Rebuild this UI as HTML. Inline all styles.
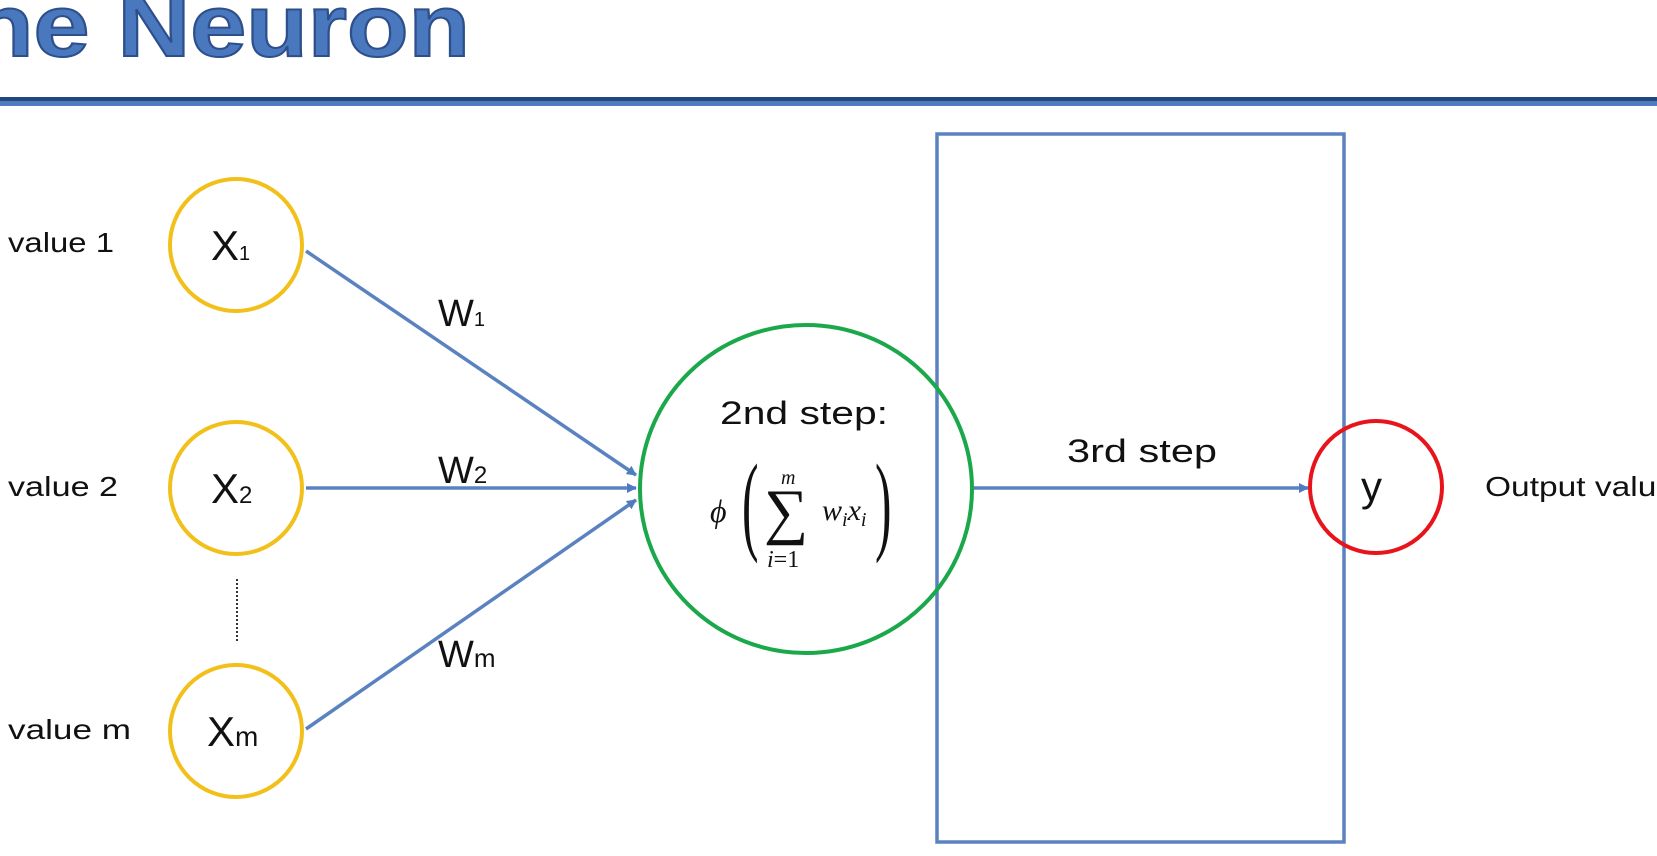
<!DOCTYPE html>
<html><head><meta charset="utf-8"><style>
html,body{margin:0;padding:0;background:#fff;width:1657px;height:856px;overflow:hidden}
svg{display:block}
text{font-family:"Liberation Sans",sans-serif;fill:#111}
text.s{font-family:"Liberation Serif",serif}
</style></head><body>
<svg width="1657" height="856" viewBox="0 0 1657 856" xmlns="http://www.w3.org/2000/svg">
<defs>
<marker id="ah" markerWidth="10" markerHeight="10" refX="9" refY="5" orient="auto" markerUnits="userSpaceOnUse">
<path d="M0,0 L10,5 L0,10 z" fill="#4f7cc0"/>
</marker>
</defs>
<text x="-28" y="56" font-size="88" font-weight="bold" textLength="498" lengthAdjust="spacingAndGlyphs" style="fill:#4a78bf;stroke:#2d4f8a;stroke-width:2">he Neuron</text>
<rect x="0" y="97" width="1657" height="4" fill="#23477e"/>
<rect x="0" y="101" width="1657" height="5" fill="#4f7cc0"/>
<rect x="937" y="134" width="407" height="708" fill="none" stroke="#5b82c0" stroke-width="3.5"/>
<g stroke="#5b82c0" stroke-width="3.5" fill="none">
<line x1="306" y1="251" x2="636" y2="475" marker-end="url(#ah)"/>
<line x1="306" y1="488" x2="636" y2="488" marker-end="url(#ah)"/>
<line x1="306" y1="729" x2="636" y2="500" marker-end="url(#ah)"/>
<line x1="972" y1="488" x2="1308" y2="488" marker-end="url(#ah)"/>
</g>
<line x1="237" y1="579" x2="237" y2="641" stroke="#333" stroke-width="2" stroke-dasharray="2,2"/>
<g fill="#fff" stroke="#f2c01a" stroke-width="4">
<circle cx="236" cy="245" r="66"/>
<circle cx="236" cy="488" r="66"/>
<circle cx="236" cy="731" r="66"/>
</g>
<ellipse cx="806" cy="489" rx="166" ry="164" fill="none" stroke="#1aa84a" stroke-width="4"/>
<circle cx="1376" cy="487" r="66" fill="none" stroke="#e8141c" stroke-width="4"/>
<g font-size="28">
<text x="8" y="252" textLength="106" lengthAdjust="spacingAndGlyphs">value 1</text>
<text x="8" y="496" textLength="110" lengthAdjust="spacingAndGlyphs">value 2</text>
<text x="8" y="739" textLength="123" lengthAdjust="spacingAndGlyphs">value m</text>
<text x="1485" y="496" textLength="190" lengthAdjust="spacingAndGlyphs">Output value</text>
</g>
<g font-size="42">
<text x="211" y="260">X<tspan font-size="20">1</tspan></text>
<text x="211" y="503">X<tspan font-size="24">2</tspan></text>
<text x="207" y="746">X<tspan font-size="28">m</tspan></text>
<text x="1361" y="501">y</text>
</g>
<g font-size="38">
<text x="438" y="326">W<tspan font-size="20">1</tspan></text>
<text x="438" y="483">W<tspan font-size="24">2</tspan></text>
<text x="438" y="667">W<tspan font-size="26">m</tspan></text>
</g>
<text x="720" y="424" font-size="32" textLength="168" lengthAdjust="spacingAndGlyphs">2nd step:</text>
<text x="1067" y="462" font-size="32" textLength="150" lengthAdjust="spacingAndGlyphs">3rd step</text>
<text class="s" x="710" y="522" font-size="32" font-style="italic">ϕ</text>
<text class="s" x="0" y="540" font-size="110" transform="translate(742,0) scale(0.45,1)">(</text>
<text class="s" x="0" y="540" font-size="110" transform="translate(875,0) scale(0.45,1)">)</text>
<text class="s" x="764" y="532" font-size="62">∑</text>
<text class="s" x="781" y="484" font-size="20" font-style="italic">m</text>
<text class="s" x="767" y="567" font-size="24"><tspan font-style="italic">i</tspan>=1</text>
<text class="s" x="822" y="520" font-size="30" font-style="italic">w<tspan font-size="20" dy="6">i</tspan><tspan dy="-6">x</tspan><tspan font-size="20" dy="6">i</tspan></text>
</svg>
</body></html>
